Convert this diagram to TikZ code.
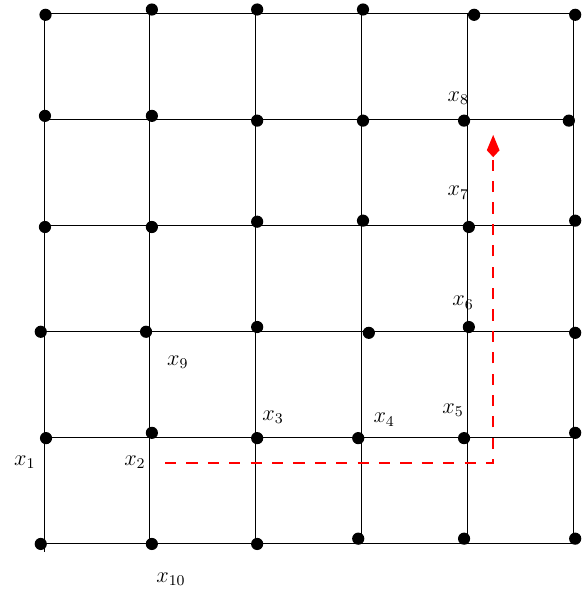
\documentclass[tikz,border=0pt]{standalone}
\usetikzlibrary{arrows.meta}

\begin{document}
\begin{tikzpicture}[
  dot/.style={circle, fill=black, inner sep=0pt, minimum size=2.3mm},
  lab/.style={inner sep=1pt, font=\large},
  route/.style={red, thick, dash pattern=on 6pt off 5.5pt, -{Kite[length=4.2mm, width=2.4mm, inset=1.3mm]}}
]
\useasboundingbox (-0.83,-0.89) rectangle (10.23,10.26);

% grid
\draw (0,-0.17) -- (0,10);
\foreach \x in {2,4,...,10} \draw (\x,0) -- (\x,10);
\foreach \y in {0,2,...,10} \draw (0,\y) -- (10,\y);

% points, a bit off the crossings
\node[dot] (p05) at (0.03,9.98) {};  \node[dot] (p15) at (2.04,10.08) {}; \node[dot] (p25) at (4.03,10.08) {};
\node[dot] (p35) at (6.03,10.08) {}; \node[dot] (p45) at (8.13,9.98) {};  \node[dot] (p55) at (10.04,9.98) {};
\node[dot] (p04) at (0.02,8.07) {};  \node[dot] (p14) at (2.04,8.07) {};  \node[dot] (p24) at (4.03,7.98) {};
\node[dot] (p34) at (6.03,7.98) {};  \node[dot] (p44) at (7.94,7.98) {};  \node[dot] (p54) at (9.92,7.98) {};
\node[dot] (p03) at (0.02,5.97) {};  \node[dot] (p13) at (2.04,5.97) {};  \node[dot] (p23) at (4.03,6.07) {};
\node[dot] (p33) at (6.03,6.09) {};  \node[dot] (p43) at (8.03,5.97) {};  \node[dot] (p53) at (10.04,6.09) {};
\node[dot] (p02) at (-0.06,3.99) {}; \node[dot] (p12) at (1.93,3.99) {};  \node[dot] (p22) at (4.03,4.08) {};
\node[dot] (p32) at (6.14,3.97) {};  \node[dot] (p42) at (8.03,4.08) {};  \node[dot] (p52) at (10.04,3.97) {};
\node[dot] (p01) at (0.04,1.98) {};  \node[dot] (p11) at (2.04,2.08) {};  \node[dot] (p21) at (4.03,1.98) {};
\node[dot] (p31) at (5.94,1.98) {};  \node[dot] (p41) at (7.94,1.98) {};  \node[dot] (p51) at (10.04,2.08) {};
\node[dot] (p00) at (-0.06,-0.02) {}; \node[dot] (p10) at (2.04,-0.02) {}; \node[dot] (p20) at (4.03,-0.02) {};
\node[dot] (p30) at (5.94,0.08) {};  \node[dot] (p40) at (7.94,0.08) {};  \node[dot] (p50) at (10.04,0.08) {};

% labels
\node[lab] (x1) at (-0.36,1.53) {$x_1$};
\node[lab] (x2) at (1.72,1.53) {$x_2$};
\node[lab] (x3) at (4.33,2.38) {$x_3$};
\node[lab] (x4) at (6.43,2.33) {$x_4$};
\node[lab] (x5) at (7.73,2.51) {$x_5$};
\node[lab] (x6) at (7.92,4.54) {$x_6$};
\node[lab] (x7) at (7.83,6.62) {$x_7$};
\node[lab] (x8) at (7.83,8.41) {$x_8$};
\node[lab] (x9) at (2.53,3.42) {$x_9$};
\node[lab] (x10) at (2.40,-0.68) {$x_{10}$};

% route
\coordinate (start) at (2.29,1.51);
\coordinate (turn) at (8.49,1.51);
\coordinate (goal) at (8.49,7.71);
\draw[route] (start) -- (turn) -- (goal);
\end{tikzpicture}
\end{document}
